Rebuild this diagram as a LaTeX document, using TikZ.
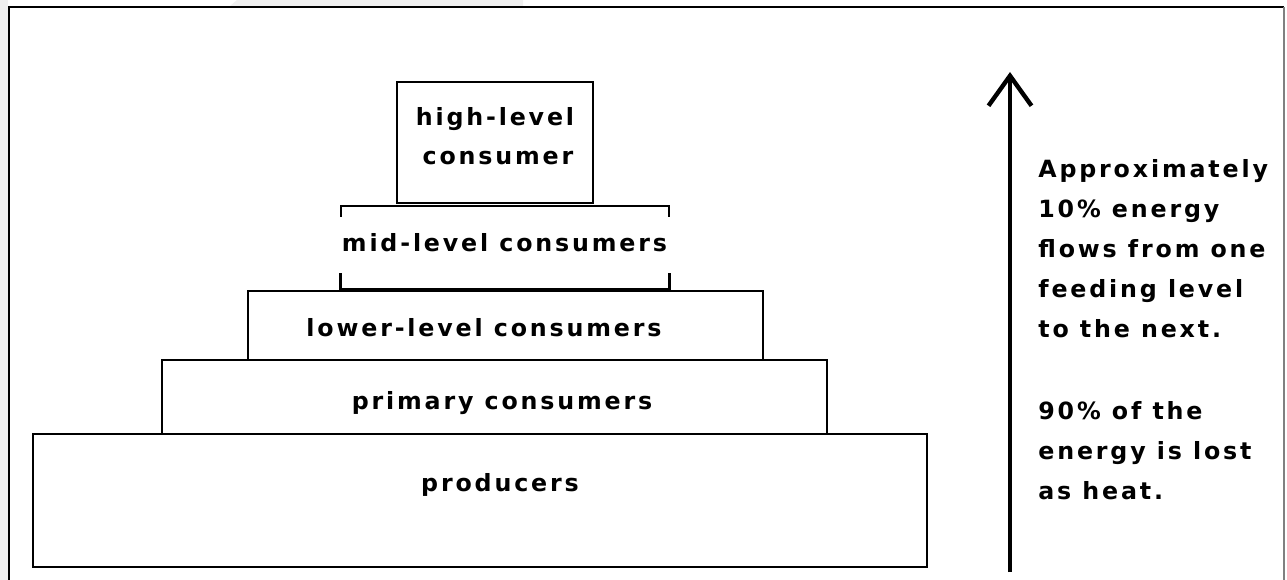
\documentclass[tikz,border=0pt]{standalone}
\usepackage{fontspec}
\usepackage{tikz}
\usetikzlibrary{arrows.meta}
\newfontfamily\pyrfont{DejaVu Sans}[LetterSpace=12]

\tikzset{
	level/.style={draw, line width=1.1pt, inner sep=0pt},
	lbl/.style={font=\pyrfont\bfseries\fontsize{13.5}{22.8}\selectfont, anchor=base, inner sep=0pt},
}

\begin{document}
\begin{tikzpicture}[x=0.02cm, y=-0.02cm]

		\useasboundingbox (0,0) rectangle (1287,580);
		\fill[gray!12] (0,0) rectangle (8,580);
		\fill[gray!12] (237,0) -- (523,0) -- (523,6) -- (230,6) -- cycle;
		\draw[line width=1.6pt] (9,580) -- (9,7) -- (1284,7);
		\draw[gray, line width=0.6pt] (1284,7) -- (1284,580);

		\node[level, minimum width=17.88cm, minimum height=2.66cm] (prod) at (480,500.5) {};
		\node[level, minimum width=13.30cm, minimum height=1.48cm] (prim) at (494.5,397) {};
		\node[level, minimum width=10.30cm, minimum height=1.38cm] (low) at (505.5,325.5) {};
		\node[minimum width=6.56cm, minimum height=1.66cm, inner sep=0pt] (mid) at (505,247.5) {};
		\node[level, minimum width=3.92cm, minimum height=2.42cm] (high) at (495,142.5) {};

		\draw[line width=1.1pt] ([yshift=-0.22cm]mid.north west) -- (mid.north west) -- (mid.north east) -- ([yshift=-0.22cm]mid.north east);
		\draw[line width=1.6pt] ([yshift=0.32cm]mid.south west) -- (mid.south west) -- (mid.south east) -- ([yshift=0.32cm]mid.south east);

		\node[lbl] (hightxt) at (495,126) {high-level};
		\node[lbl] (hightxt2) at (498,165) {consumer};
		\node[lbl] (midtxt) at (504.5,252) {mid-level consumers};
		\node[lbl] (lowtxt) at (484,337) {lower-level consumers};
		\node[lbl] (primtxt) at (502,410) {primary consumers};
		\node[lbl] (prodtxt) at (500,491) {producers};

		\coordinate (abot) at (1010,572);
		\coordinate (atop) at (1010,72);
		\draw[line width=2.5pt, -{Straight Barb[length=0.6cm, width=0.86cm]}] (abot) -- (atop);

		\node[lbl, anchor=north west, align=left] (note) at (1038,159) {Approximately\\10\% energy\\flows from one\\feeding level\\to the next.\\[24pt]90\% of the\\energy is lost\\as heat.};

\end{tikzpicture}
\end{document}
